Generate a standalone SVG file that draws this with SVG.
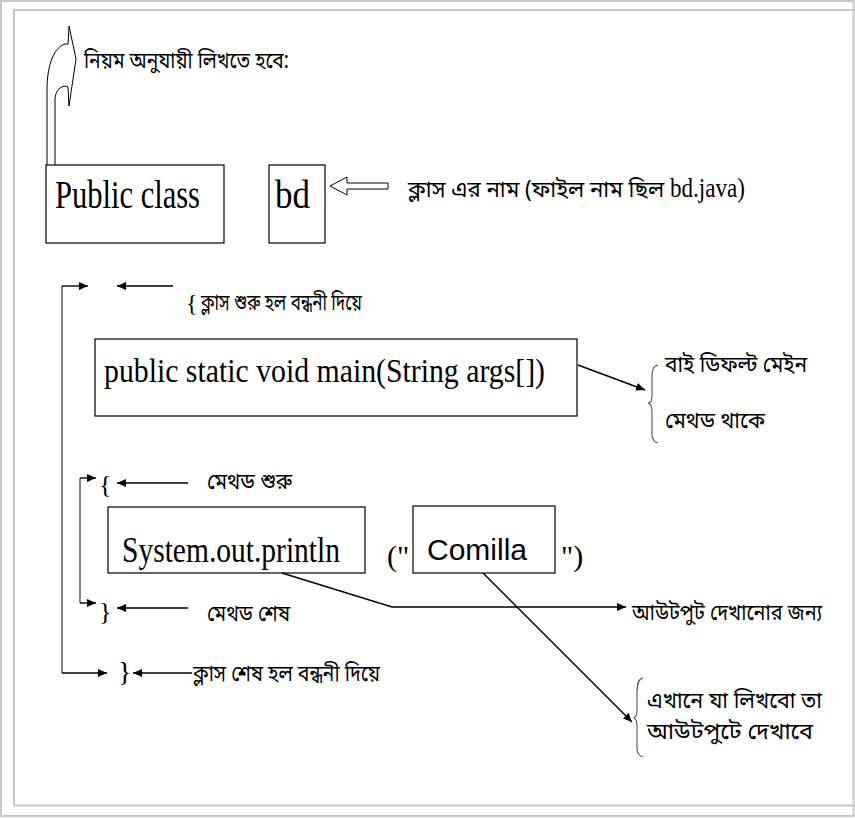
<svg xmlns="http://www.w3.org/2000/svg" width="855" height="818" viewBox="0 0 855 818">
<defs>
<marker id="ah" markerWidth="10" markerHeight="10" refX="9" refY="5" orient="auto" markerUnits="userSpaceOnUse">
<path d="M0,1 L9,5 L0,9 Z" fill="#000"/>
</marker>
</defs>
<style>
.frame{fill:none;stroke:#c8c8c8;stroke-width:2}
.box{fill:#fff;stroke:#000;stroke-width:1.2}
.ser{font-family:"Liberation Serif","Times New Roman",serif;fill:#000}
.san{font-family:"Liberation Sans",Arial,sans-serif;fill:#000}
.bn{font-family:"Noto Sans Bengali","Noto Serif Bengali","Lohit Bengali","FreeSerif","Noto Sans",sans-serif;font-size:23px;fill:#000}
.ln{fill:none;stroke:#000;stroke-width:1.4}
.gl{fill:none;stroke:#666;stroke-width:1.6}
.br{fill:none;stroke:#555;stroke-width:1.1}
</style>
<rect class="frame" x="1" y="1" width="852.5" height="815"/>
<rect class="frame" x="14" y="10" width="850" height="795.5"/>

<g id="rule-arrow">
<path d="M47,166 L47,90 C47,63 55,47 65,44 L68,44 L69,26 L76,59 L69,106 L68,87 L65,86 C59,87 55,92 55,100 L55,166" fill="#fff" stroke="#000" stroke-width="1"/>
<text class="bn" x="84" y="68" textLength="205" lengthAdjust="spacingAndGlyphs">নিয়ম অনুযায়ী লিখতে হবে:</text>
</g>

<g id="public-class">
<rect class="box" x="46" y="165" width="178" height="78"/>
<text class="ser" x="55" y="208" font-size="40" textLength="145" lengthAdjust="spacingAndGlyphs">Public class</text>
</g>

<g id="bd">
<rect class="box" x="269" y="165" width="56" height="78"/>
<text class="ser" x="275" y="208" font-size="40" textLength="35" lengthAdjust="spacingAndGlyphs">bd</text>
</g>

<g id="class-name-label">
<text x="408" y="197"><tspan class="bn" textLength="262" lengthAdjust="spacingAndGlyphs">ক্লাস এর নাম (ফাইল নাম ছিল </tspan><tspan class="ser" font-size="27" textLength="75" lengthAdjust="spacingAndGlyphs">bd.java)</tspan></text>
</g>

<g id="class-start">
<text class="ser" x="186" y="311" font-size="24">{</text>
<text class="bn" x="201" y="310" textLength="161" lengthAdjust="spacingAndGlyphs">ক্লাস শুরু হল বন্ধনী দিয়ে</text>
</g>

<g id="main">
<rect class="box" x="95" y="339" width="482" height="77"/>
<text class="ser" x="104" y="382" font-size="34" textLength="441" lengthAdjust="spacingAndGlyphs">public static void main(String args[])</text>
</g>

<g id="main-label">
<path class="br" d="M658,365 C653,366 652,370 652,378 L652,396 C652,401 651,403 648,403 C651,404 652,406 652,411 L652,434 C652,440 654,442 658,443"/>
<text class="bn" x="665" y="372" textLength="142" lengthAdjust="spacingAndGlyphs">বাই ডিফল্ট মেইন</text>
<text class="bn" x="665" y="428" textLength="100" lengthAdjust="spacingAndGlyphs">মেথড থাকে</text>
</g>

<g id="method-start">
<text class="ser" x="99" y="493" font-size="26">{</text>
<text class="bn" x="207" y="489" textLength="85" lengthAdjust="spacingAndGlyphs">মেথড শুরু</text>
</g>

<g id="println">
<rect class="box" x="108" y="507" width="257" height="66"/>
<text class="ser" x="122" y="562" font-size="35" textLength="218" lengthAdjust="spacingAndGlyphs">System.out.println</text>
</g>

<g id="open-paren">
<text class="ser" x="387" y="566" font-size="30">("</text>
</g>

<g id="comilla">
<rect class="box" x="413" y="506" width="142" height="67"/>
<text class="san" x="427" y="560" font-size="30" textLength="100" lengthAdjust="spacingAndGlyphs">Comilla</text>
</g>

<g id="close-paren">
<text class="ser" x="561" y="566" font-size="30">")</text>
</g>

<g id="method-end">
<text class="ser" x="99" y="620" font-size="26">}</text>
<text class="bn" x="207" y="621" textLength="83" lengthAdjust="spacingAndGlyphs">মেথড শেষ</text>
</g>

<g id="output-label">
<text class="bn" x="632" y="620" textLength="190" lengthAdjust="spacingAndGlyphs">আউটপুট দেখানোর জন্য</text>
</g>

<g id="class-end">
<text class="ser" x="118" y="681" font-size="28">}</text>
<text class="bn" x="193" y="681" textLength="187" lengthAdjust="spacingAndGlyphs">ক্লাস শেষ হল বন্ধনী দিয়ে</text>
</g>

<g id="comilla-label">
<path class="br" d="M643,678 C638,679 637,684 637,692 L637,710 C637,715 636,717 634,718 C636,719 637,721 637,726 L637,748 C637,754 639,756 643,757"/>
<text class="bn" x="647" y="708" textLength="175" lengthAdjust="spacingAndGlyphs">এখানে যা লিখবো তা</text>
<text class="bn" x="647" y="739" textLength="166" lengthAdjust="spacingAndGlyphs">আউটপুটে দেখাবে</text>
</g>

<g id="connectors">
<polygon points="330,186 347,177 347,183 388,183 388,189 347,189 347,195" fill="#fff" stroke="#000" stroke-width="1"/>
<line class="gl" x1="62" y1="286" x2="62" y2="673"/>
<line class="ln" x1="62" y1="286" x2="88" y2="286" marker-end="url(#ah)"/>
<line class="ln" x1="173" y1="286" x2="117" y2="286" marker-end="url(#ah)"/>
<line class="ln" x1="62" y1="673" x2="107" y2="673" marker-end="url(#ah)"/>
<line class="ln" x1="192" y1="673" x2="133" y2="673" marker-end="url(#ah)"/>
<line class="gl" x1="80" y1="478" x2="80" y2="603"/>
<line class="ln" x1="80" y1="478" x2="96" y2="478" marker-end="url(#ah)"/>
<line class="ln" x1="80" y1="603" x2="96" y2="603" marker-end="url(#ah)"/>
<line class="ln" x1="188" y1="483" x2="117" y2="483" marker-end="url(#ah)"/>
<line class="ln" x1="188" y1="608" x2="117" y2="608" marker-end="url(#ah)"/>
<line class="ln" x1="578" y1="365" x2="645" y2="390" marker-end="url(#ah)"/>
<polyline class="ln" points="282,573 392,607 626,607" marker-end="url(#ah)"/>
<line class="ln" x1="483" y1="573" x2="632" y2="722" marker-end="url(#ah)"/>
</g>
</svg>
